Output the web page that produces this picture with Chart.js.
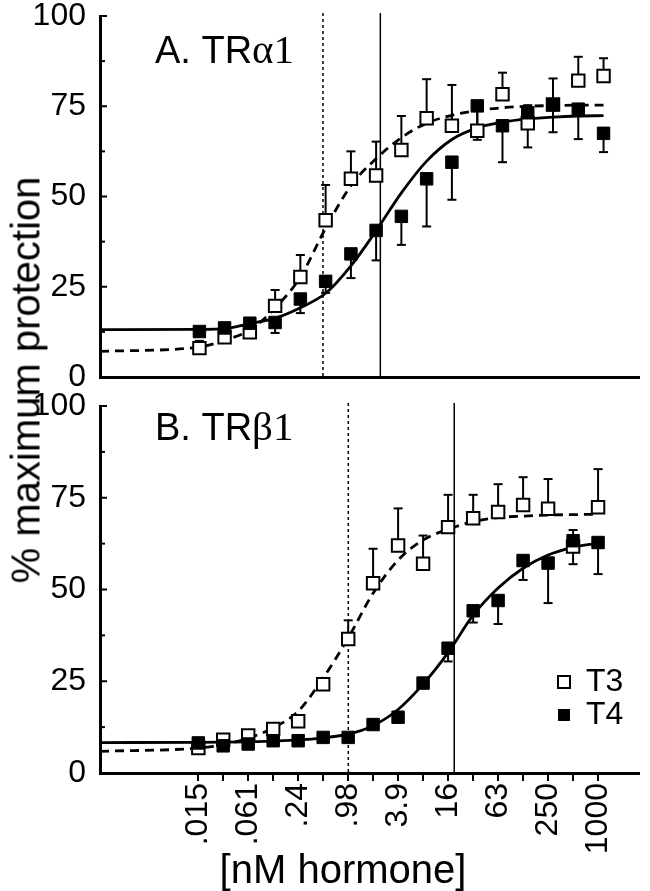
<!DOCTYPE html>
<html>
<head>
<meta charset="utf-8">
<script src="https://cdn.jsdelivr.net/npm/chart.js@4.4.0/dist/chart.umd.min.js"></script>
<style>
  body { margin: 0; background: #fff; }
  #wrap { position: relative; width: 650px; height: 891px; }
  canvas { position: absolute; left: 0; }
  #ytitle {
    position: absolute; left: 26px; top: 380px;
    transform: translate(-50%, -50%) rotate(-90deg);
    font: 40px 'Liberation Sans', Arial, sans-serif;
    white-space: nowrap; color: #000;
  }
</style>
</head>
<body>
<div id="wrap">
  <canvas id="chartA" width="650" height="390" style="top:0"></canvas>
  <canvas id="chartB" width="650" height="501" style="top:390px"></canvas>
  <div id="ytitle">% maximum protection</div>
</div>
<script>
// hormone doses (nM), twofold dilutions
const doses = [0.0153, 0.0305, 0.061, 0.122, 0.244, 0.488, 0.977, 1.95, 3.9, 7.8, 15.6, 31.3, 62.5, 125, 250, 500, 1000];
const tickLabels = ['.015', '', '.061', '', '.24', '', '.98', '', '3.9', '', '16', '', '63', '', '250', '', '1000'];
const fitDoses = [0.001, 0.0153, 0.0305, 0.061, 0.122, 0.244, 0.488, 0.977, 1.95, 3.9, 7.8, 15.6, 31.3, 62.5, 125, 250, 500, 1000];

// A. TRalpha1
const aT3 = [8, 11, 12.4, 19.7, 27.7, 43.4, 54.9, 55.8, 62.9, 71.7, 69.6, 68.2, 78.3, 70.3, 75.5, 82.1, 83.4];
const aT3Err = [2, 2, 2, 4.4, 6.1, 9.8, 7.6, 9.4, 9.4, 10.8, 11.3, 6, 6, 5, 7.2, 6.6, 4.9];
const aT4 = [12.6, 13.6, 14.9, 15.1, 21.6, 26.5, 34.1, 40.6, 44.5, 54.9, 59.5, 75.1, 69.6, 73.2, 75.4, 74.2, 67.5];
const aT4Err = [1, 1, 1, 2.9, 3.9, 3.2, 6.7, 8.3, 7.9, 13.2, 10.4, 9.4, 10.1, 9.6, 7.6, 8.3, 5.2];
const aFitT3 = [7.1, 8.3, 10.2, 13, 19.1, 27.7, 41.2, 53, 60.5, 66.3, 70.3, 72.5, 73.8, 74.6, 75, 75.2, 75.3, 75.3];
const aFitT4 = [13.1, 13.2, 13.4, 14.8, 16.3, 19.2, 23.2, 30.8, 40.5, 51, 59.8, 65.8, 69, 70.6, 71.5, 72, 72.3, 72.4];
const aEC50 = [0.454, 2.19];

// B. TRbeta1
const bT3 = [6.8, 9.1, 10.2, 12, 14.1, 24.2, 36.5, 51.7, 62, 57, 67, 69.4, 71.1, 73, 72, 61.7, 72.4];
const bT3Err = [0, 0, 0, 0, 0, 1.5, 5.1, 9.4, 10.1, 7.7, 8.8, 6.4, 7.6, 7.6, 8.1, 4.5, 10.4];
const bT4 = [8.2, 7.4, 7.9, 8.8, 8.8, 9.7, 9.7, 13.2, 15.2, 24.5, 34, 44.2, 47, 57.9, 57.2, 63.3, 62.8];
const bT4Err = [0, 0, 0, 0, 0, 0, 0, 0, 0, 0, 3.6, 3.2, 6.4, 5.3, 10.9, 6.4, 8.6];
const bFitT3 = [5.9, 6.8, 7.7, 9.5, 12.3, 16.8, 25.9, 36.8, 49, 58, 63.5, 66.4, 68.5, 69.6, 70, 70.3, 70.4, 70.5];
const bFitT4 = [8.3, 8.35, 8.4, 8.5, 8.7, 9.0, 9.6, 10.6, 12.9, 17.3, 24.2, 32.8, 43, 50.4, 55.8, 59.4, 61.5, 62.6];
const bEC50 = [0.98, 18.5];

const SANS = "'Liberation Sans', Arial, sans-serif";
const SERIF = "'Liberation Serif', 'Times New Roman', serif";

const toXY = (xs, ys) => xs.map((x, i) => ({ x: x, y: ys[i] }));

function line(ctx, x1, y1, x2, y2) {
  ctx.beginPath();
  ctx.moveTo(x1, y1);
  ctx.lineTo(x2, y2);
  ctx.stroke();
}

const panelPlugin = {
  id: 'panel',
  beforeDatasetsDraw(chart, args, o) {
    const { ctx, chartArea: a, scales: { x, y } } = chart;
    ctx.save();
    ctx.strokeStyle = '#000';
    // EC50 markers
    ctx.lineWidth = 1.5;
    ctx.setLineDash([3, 3]);
    let px = x.getPixelForValue(o.ec50[0]);
    line(ctx, px, a.top - 3, px, a.bottom);
    ctx.setLineDash([]);
    px = x.getPixelForValue(o.ec50[1]);
    line(ctx, px, a.top - 3, px, a.bottom);
    // error bars (T3 up, T4 down)
    ctx.lineWidth = 2;
    o.bars.forEach(b => {
      doses.forEach((d, i) => {
        const e = b.err[i];
        if (!e) return;
        const bx = x.getPixelForValue(d);
        const y0 = y.getPixelForValue(b.mean[i]);
        const y1 = y.getPixelForValue(b.mean[i] + b.dir * e);
        line(ctx, bx, y0, bx, y1);
        line(ctx, bx - 4.5, y1, bx + 4.5, y1);
      });
    });
    ctx.restore();
  },
  afterDraw(chart, args, o) {
    const { ctx, chartArea: a, scales: { y } } = chart;
    ctx.save();
    ctx.strokeStyle = '#000';
    ctx.fillStyle = '#000';
    ctx.lineWidth = 2;
    // inward y ticks
    for (let v = 0; v <= 100; v += 12.5) {
      const py = y.getPixelForValue(v);
      line(ctx, a.left, py, a.left + (v % 25 === 0 ? 7 : 5), py);
    }
    // panel title
    ctx.textBaseline = 'alphabetic';
    ctx.textAlign = 'left';
    ctx.font = '38px ' + SANS;
    ctx.fillText(o.title, o.tx, o.ty);
    const w = ctx.measureText(o.title).width;
    ctx.font = '41px ' + SERIF;
    ctx.fillText(o.greek, o.tx + w, o.ty);
    // legend
    if (o.legend) {
      ctx.lineWidth = 2;
      ctx.fillStyle = '#fff';
      ctx.fillRect(558, 286, 12, 12);
      ctx.strokeRect(558, 286, 12, 12);
      ctx.fillStyle = '#000';
      ctx.fillRect(558, 319, 12, 12);
      ctx.font = '32px ' + SANS;
      ctx.textBaseline = 'middle';
      ctx.fillText('T3', 586, 292);
      ctx.fillText('T4', 586, 325);
    }
    // x axis title
    if (o.xTitle) {
      ctx.font = '40px ' + SANS;
      ctx.textAlign = 'center';
      ctx.textBaseline = 'middle';
      ctx.fillText(o.xTitle, 343, 482);
    }
    ctx.restore();
  }
};

function makeChart(id, t3, t4, fitT3, fitT4, t3Err, t4Err, ec50, opts) {
  const datasets = [
    { data: toXY(doses, t4), showLine: false, pointStyle: 'rect', pointRadius: 8.8,
      backgroundColor: '#000', borderColor: '#000', borderWidth: 1 },
    { data: toXY(doses, t3), showLine: false, pointStyle: 'rect', pointRadius: 8.8,
      backgroundColor: '#fff', borderColor: '#000', borderWidth: 2 },
    { data: toXY(fitDoses, fitT4), showLine: true, pointRadius: 0, borderColor: '#000',
      borderWidth: 2.8, cubicInterpolationMode: 'monotone' },
    { data: toXY(fitDoses, fitT3), showLine: true, pointRadius: 0, borderColor: '#000',
      borderWidth: 2.8, borderDash: [9, 6], cubicInterpolationMode: 'monotone' }
  ];

  return new Chart(document.getElementById(id), {
    type: 'scatter',
    data: { datasets: datasets },
    plugins: [panelPlugin],
    options: {
      responsive: false,
      animation: false,
      devicePixelRatio: 1,
      layout: { padding: { top: 16, right: opts.padRight, left: 0, bottom: 0 } },
      plugins: {
        legend: { display: false },
        tooltip: { enabled: false },
        panel: {
          ec50: ec50,
          bars: [{ mean: t3, err: t3Err, dir: 1 }, { mean: t4, err: t4Err, dir: -1 }],
          title: opts.title, greek: opts.greek, tx: 155, ty: opts.ty,
          legend: opts.legend, xTitle: opts.xTitle
        }
      },
      scales: {
        x: {
          type: 'logarithmic',
          min: 0.001,
          max: opts.xMax,
          afterBuildTicks: s => { s.ticks = doses.map(v => ({ value: v })); },
          afterFit: s => { s.height = opts.xHeight; s.paddingLeft = 0; s.paddingRight = 0; },
          grid: { display: opts.showXTicks, drawOnChartArea: false, drawTicks: true, tickLength: 8, color: '#000', lineWidth: 2 },
          border: { display: true, color: '#000', width: 3 },
          ticks: {
            display: opts.showXTicks,
            autoSkip: false,
            minRotation: 90,
            maxRotation: 90,
            padding: 2,
            color: '#000',
            font: { family: SANS, size: 32 },
            callback: (v, i) => tickLabels[i]
          }
        },
        y: {
          min: 0,
          max: 100,
          afterFit: s => { s.width = 100; s.paddingTop = 0; s.paddingBottom = 0; },
          grid: { display: false },
          border: { display: true, color: '#000', width: 3 },
          ticks: { stepSize: 25, padding: 6, color: '#000', font: { family: SANS, size: 32 } }
        }
      }
    }
  });
}

makeChart('chartA', aT3, aT4, aFitT3, aFitT4, aT3Err, aT4Err, aEC50, {
  padRight: 6, xMax: 2660, xHeight: 13, showXTicks: false,
  title: 'A. TR', greek: '\u03b11', ty: 63, legend: false, xTitle: null
});

makeChart('chartB', bT3, bT4, bFitT3, bFitT4, bT3Err, bT4Err, bEC50, {
  padRight: 0, xMax: 3130, xHeight: 118, showXTicks: true,
  title: 'B. TR', greek: '\u03b21', ty: 50, legend: true, xTitle: '[nM hormone]'
});
</script>
</body>
</html>
